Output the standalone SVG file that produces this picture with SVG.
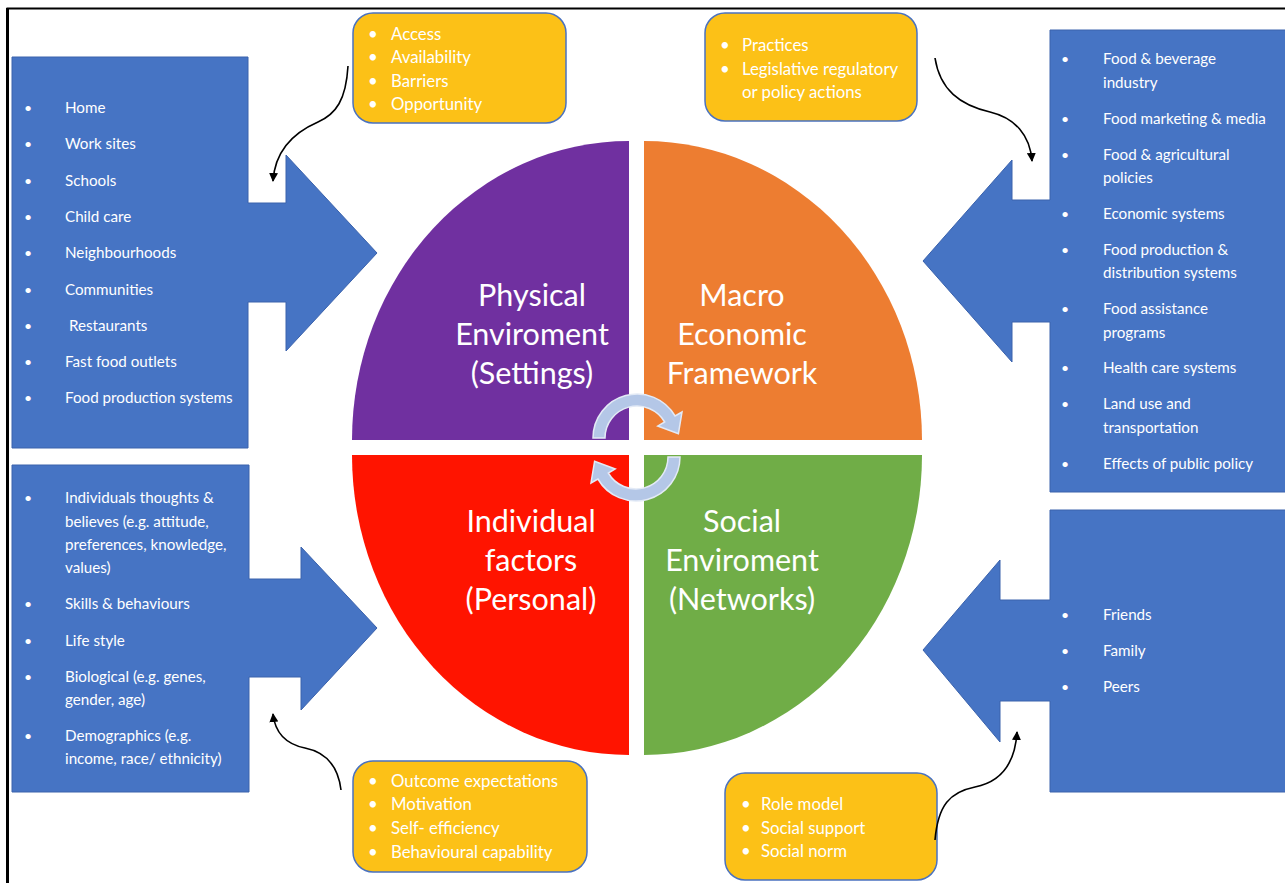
<svg xmlns="http://www.w3.org/2000/svg" width="1285" height="883" viewBox="0 0 1285 883">
  <style>
    .blue { fill: #4674C4; stroke: #3A62AC; stroke-width: 1; }
    .note { fill: #FCC117; stroke: #4A72C0; stroke-width: 1.5; }
    .item { font-family: Lato, "Liberation Sans", sans-serif; font-size: 15.2px; fill: #FFFFFF; }
    .bul { font-family: Lato, "Liberation Sans", sans-serif; font-size: 14px; fill: #FFFFFF; }
    .nt { font-family: Lato, "Liberation Sans", sans-serif; font-size: 16.8px; fill: #FFFFFF; }
    .qt { font-family: Lato, "Liberation Sans", sans-serif; font-size: 30.5px; fill: #FFFFFF; text-anchor: middle; }
    .conn { fill: none; stroke: #000000; stroke-width: 1.6; marker-end: url(#head); }
    .cyc { fill: #B4C7E7; stroke: #E3EAF6; stroke-width: 1.5; }
  </style>
  <defs>
    <marker id="head" viewBox="0 0 10 10" refX="9" refY="5" markerWidth="9" markerHeight="9" markerUnits="userSpaceOnUse" orient="auto">
      <path d="M0,0 L10,5 L0,10 Z" fill="#000000"/>
    </marker>
  </defs>

  <rect x="0" y="0" width="1285" height="883" fill="#FFFFFF"/>
  <!-- frame -->
  <path d="M7.5,883 V8.5 H1285" fill="none" stroke="#000000" stroke-width="2"/>
  <rect x="6" y="8" width="3" height="875" fill="#000000"/>

  <!-- central circle quadrants -->
  <g id="physical-environment">
    <path d="M629,440 L352,440 A277,299 0 0 1 629,141 Z" fill="#7030A0"/>
    <text class="qt" x="532" y="306">Physical</text>
    <text class="qt" x="532" y="345">Enviroment</text>
    <text class="qt" x="532" y="384">(Settings)</text>
  </g>
  <g id="macro-economic">
    <path d="M644,440 L644,141 A278,299 0 0 1 922,440 Z" fill="#ED7D31"/>
    <text class="qt" x="742" y="306">Macro</text>
    <text class="qt" x="742" y="345">Economic</text>
    <text class="qt" x="742" y="384">Framework</text>
  </g>
  <g id="individual-factors">
    <path d="M629,455 L352,455 A277,300 0 0 0 629,755 Z" fill="#FF1400"/>
    <text class="qt" x="531" y="532">Individual</text>
    <text class="qt" x="531" y="571">factors</text>
    <text class="qt" x="531" y="610">(Personal)</text>
  </g>
  <g id="social-environment">
    <path d="M644,455 L922,455 A278,300 0 0 1 644,755 Z" fill="#70AD47"/>
    <text class="qt" x="742" y="532">Social</text>
    <text class="qt" x="742" y="571">Enviroment</text>
    <text class="qt" x="742" y="610">(Networks)</text>
  </g>

  <!-- cycle arrows in the middle -->
  <g id="cycle">
    <path class="cyc" d="M593,438 A44,44 0 0 1 675.1,416 L682,412 L678.4,433.7 L657.8,426 L664.7,422 A32,32 0 0 0 605,438 Z"/>
    <path class="cyc" transform="rotate(180 636.5 447.5)" d="M593,438 A44,44 0 0 1 675.1,416 L682,412 L678.4,433.7 L657.8,426 L664.7,422 A32,32 0 0 0 605,438 Z"/>
  </g>

  <!-- settings -->
  <g id="settings">
    <path class="blue" d="M12,57 H248 V203 H286 V155 L377,253 L286,351 V302 H248 V448 H12 Z"/>
    <g class="bul"><text x="24" y="113">•</text><text x="24" y="149">•</text><text x="24" y="186">•</text><text x="24" y="222">•</text><text x="24" y="258">•</text><text x="24" y="295">•</text><text x="24" y="331">•</text><text x="24" y="367">•</text><text x="24" y="403">•</text></g>
    <g class="item">
      <text x="65" y="113">Home</text>
      <text x="65" y="149">Work sites</text>
      <text x="65" y="186">Schools</text>
      <text x="65" y="222">Child care</text>
      <text x="65" y="258">Neighbourhoods</text>
      <text x="65" y="295">Communities</text>
      <text x="69" y="331">Restaurants</text>
      <text x="65" y="367">Fast food outlets</text>
      <text x="65" y="403">Food production systems</text>
    </g>
  </g>

  <!-- personal -->
  <g id="personal">
    <path class="blue" d="M12,465 H249 V579 H301 V547 L377,628 L301,710 V677 H249 V792 H12 Z"/>
    <g class="bul"><text x="24" y="503">•</text><text x="24" y="609">•</text><text x="24" y="646">•</text><text x="24" y="682">•</text><text x="24" y="741">•</text></g>
    <g class="item">
      <text x="65" y="503">Individuals thoughts &amp;</text>
      <text x="65" y="527">believes (e.g. attitude,</text>
      <text x="65" y="550">preferences, knowledge,</text>
      <text x="65" y="573">values)</text>
      <text x="65" y="609">Skills &amp; behaviours</text>
      <text x="65" y="646">Life style</text>
      <text x="65" y="682">Biological (e.g. genes,</text>
      <text x="65" y="705">gender, age)</text>
      <text x="65" y="741">Demographics (e.g.</text>
      <text x="65" y="764">income, race/ ethnicity)</text>
    </g>
  </g>

  <!-- macro level -->
  <g id="macro-level">
    <path class="blue" d="M1286,30 H1050 V200 H1012 V160 L923,261 L1012,362 V322 H1050 V492 H1286 Z"/>
    <g class="bul"><text x="1061" y="64">•</text><text x="1061" y="124">•</text><text x="1061" y="160">•</text><text x="1061" y="219">•</text><text x="1061" y="255">•</text><text x="1061" y="314">•</text><text x="1061" y="373">•</text><text x="1061" y="409">•</text><text x="1061" y="469">•</text></g>
    <g class="item">
      <text x="1103" y="64">Food &amp; beverage</text>
      <text x="1103" y="88">industry</text>
      <text x="1103" y="124">Food marketing &amp; media</text>
      <text x="1103" y="160">Food &amp; agricultural</text>
      <text x="1103" y="183">policies</text>
      <text x="1103" y="219">Economic systems</text>
      <text x="1103" y="255">Food production &amp;</text>
      <text x="1103" y="278">distribution systems</text>
      <text x="1103" y="314">Food assistance</text>
      <text x="1103" y="338">programs</text>
      <text x="1103" y="373">Health care systems</text>
      <text x="1103" y="409">Land use and</text>
      <text x="1103" y="433">transportation</text>
      <text x="1103" y="469">Effects of public policy</text>
    </g>
  </g>

  <!-- networks -->
  <g id="networks">
    <path class="blue" d="M1286,510 H1050 V600 H1000 V560 L923,650 L1000,742 V701 H1050 V792 H1286 Z"/>
    <g class="bul"><text x="1061" y="620">•</text><text x="1061" y="656">•</text><text x="1061" y="692">•</text></g>
    <g class="item">
      <text x="1103" y="620">Friends</text>
      <text x="1103" y="656">Family</text>
      <text x="1103" y="692">Peers</text>
    </g>
  </g>

  <!-- yellow notes -->
  <g id="note-settings">
    <rect class="note" x="353" y="13" width="213" height="110" rx="20"/>
    <g class="nt">
      <text x="368" y="40">•</text><text x="391" y="40">Access</text>
      <text x="368" y="63">•</text><text x="391" y="63">Availability</text>
      <text x="368" y="87">•</text><text x="391" y="87">Barriers</text>
      <text x="368" y="110">•</text><text x="391" y="110">Opportunity</text>
    </g>
  </g>
  <g id="note-macro">
    <rect class="note" x="705" y="13" width="212" height="108" rx="20"/>
    <g class="nt">
      <text x="720" y="51">•</text><text x="742" y="51">Practices</text>
      <text x="720" y="75">•</text><text x="742" y="75">Legislative regulatory</text>
      <text x="742" y="98">or policy actions</text>
    </g>
  </g>
  <g id="note-personal">
    <rect class="note" x="353" y="761" width="234" height="111" rx="20"/>
    <g class="nt">
      <text x="368" y="787">•</text><text x="391" y="787">Outcome expectations</text>
      <text x="368" y="810">•</text><text x="391" y="810">Motivation</text>
      <text x="368" y="834">•</text><text x="391" y="834">Self- efficiency</text>
      <text x="368" y="858">•</text><text x="391" y="858">Behavioural capability</text>
    </g>
  </g>
  <g id="note-networks">
    <rect class="note" x="725" y="773" width="212" height="107" rx="20"/>
    <g class="nt">
      <text x="741" y="810">•</text><text x="761" y="810">Role model</text>
      <text x="741" y="834">•</text><text x="761" y="834">Social support</text>
      <text x="741" y="857">•</text><text x="761" y="857">Social norm</text>
    </g>
  </g>

  <!-- connectors from notes to arrows -->
  <g id="connectors">
    <path class="conn" d="M348,66 C346,100 336,114 318,122 C295,132 275,150 273,181"/>
    <path class="conn" d="M935,58 C940,90 960,105 990,112 C1015,118 1030,135 1032,161"/>
    <path class="conn" d="M341,790 C338,765 325,752 305,748 C285,744 275,732 273,714"/>
    <path class="conn" d="M935,840 C938,805 950,792 975,787 C1000,782 1015,765 1017,732"/>
  </g>
</svg>
